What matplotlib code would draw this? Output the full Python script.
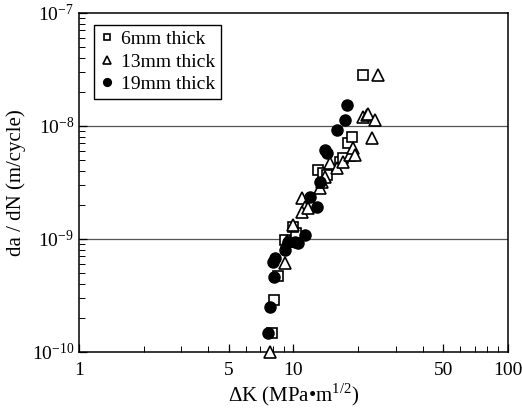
import matplotlib
matplotlib.use('Agg')
import matplotlib.pyplot as plt
from matplotlib.ticker import FixedLocator, NullFormatter

plt.rcParams['font.family'] = ['Liberation Serif', 'DejaVu Serif']
plt.rcParams['mathtext.fontset'] = 'custom'
plt.rcParams['mathtext.rm'] = 'Liberation Serif'

# 6mm thick
dk_6 = [7.94, 8.11, 8.47, 9.13, 10.3, 9.95, 13.0, 13.7, 14.3, 16.5, 17.0, 17.9, 18.7, 21.1]
dadn_6 = [1.47e-10, 2.9e-10, 4.7e-10, 9.8e-10, 1.13e-9, 1.28e-9, 4.1e-9, 3.8e-9, 3.7e-9,
          4.8e-9, 5.2e-9, 7.1e-9, 8.0e-9, 2.8e-8]

# 13mm thick
dk_13 = [7.77, 9.13, 9.33, 9.95, 11.0, 11.3, 11.0, 11.7, 13.3, 13.6, 14.0, 14.8, 16.0,
         17.0, 18.3, 18.9, 19.4, 21.1, 22.0, 22.2, 24.0, 23.2, 24.8]
dadn_13 = [1.0e-10, 6.1e-10, 9.6e-10, 1.33e-9, 2.3e-9, 1.92e-9, 1.73e-9, 1.88e-9, 2.8e-9,
           3.2e-9, 3.5e-9, 4.7e-9, 4.25e-9, 4.8e-9, 5.5e-9, 6.4e-9, 5.5e-9, 1.2e-8,
           1.25e-8, 1.28e-8, 1.13e-8, 7.8e-9, 2.8e-8]

# 19mm thick
dk_19 = [7.61, 7.77, 8.11, 8.02, 8.20, 9.13, 9.42, 10.2, 10.5, 11.3, 11.9, 12.9, 13.3,
         14.0, 14.3, 16.0, 17.4, 17.8]
dadn_19 = [1.47e-10, 2.5e-10, 4.6e-10, 6.25e-10, 6.8e-10, 8.0e-10, 9.4e-10, 9.4e-10,
           9.2e-10, 1.08e-9, 2.35e-9, 1.92e-9, 3.2e-9, 6.1e-9, 5.8e-9, 9.2e-9, 1.13e-8,
           1.53e-8]

fig = plt.figure(figsize=(5.22, 4.15), dpi=100)
ax = fig.add_axes([0.1513, 0.152, 0.8217, 0.817])

ax.plot(dk_6, dadn_6, 's', ms=7, mfc='white', mec='black', mew=1.2,
        label='6mm thick', clip_on=False, zorder=3)
ax.plot(dk_13, dadn_13, '^', ms=8, mfc='white', mec='black', mew=1.2,
        label='13mm thick', clip_on=False, zorder=3)
ax.plot(dk_19, dadn_19, 'o', ms=8, mfc='black', mec='black',
        label='19mm thick', clip_on=False, zorder=4)

ax.set_xscale('log')
ax.set_yscale('log')
ax.set_xlim(1, 100)
ax.set_ylim(1e-10, 1e-7)

for yv in [1e-9, 1e-8]:
    ax.axhline(yv, color='#555555', lw=0.9, zorder=1)

ax.xaxis.set_major_locator(FixedLocator([1, 5, 10, 50, 100]))
ax.set_xticklabels(['1', '5', '10', '50', '100'])
minor_x = [m * d for d in [1, 10] for m in range(2, 10) if m != 5]
ax.xaxis.set_minor_locator(FixedLocator(minor_x))
ax.xaxis.set_minor_formatter(NullFormatter())

ax.yaxis.set_major_locator(FixedLocator([1e-10, 1e-9, 1e-8, 1e-7]))
ax.set_yticklabels([r'$\mathregular{10^{-10}}$', r'$\mathregular{10^{-9}}$',
                    r'$\mathregular{10^{-8}}$', r'$\mathregular{10^{-7}}$'])
minor_y = [m * d for d in [1e-10, 1e-9, 1e-8] for m in range(2, 10)]
ax.yaxis.set_minor_locator(FixedLocator(minor_y))
ax.yaxis.set_minor_formatter(NullFormatter())

ax.tick_params(which='both', direction='in', labelsize=14, top=False, right=False)
ax.tick_params(which='major', length=6, width=0.9)
ax.tick_params(which='minor', length=4, width=0.7)
ax.tick_params(axis='x', pad=7)

for sp in ax.spines.values():
    sp.set_linewidth(1.1)

ax.set_xlabel('ΔK (MPa•m$^{\\mathregular{1/2}}$)', fontsize=15, labelpad=2)
ax.set_ylabel('da / dN (m/cycle)', fontsize=15, labelpad=4)

leg = ax.legend(loc='upper left', bbox_to_anchor=(0.035, 0.965), borderaxespad=0,
                fontsize=14, markerscale=0.7, handlelength=0.7, handletextpad=0.4,
                labelspacing=0.25, borderpad=0.3, fancybox=False, framealpha=1)
leg.get_frame().set_edgecolor('black')
leg.get_frame().set_linewidth(1.0)

fig.savefig('out.png', dpi=100)
